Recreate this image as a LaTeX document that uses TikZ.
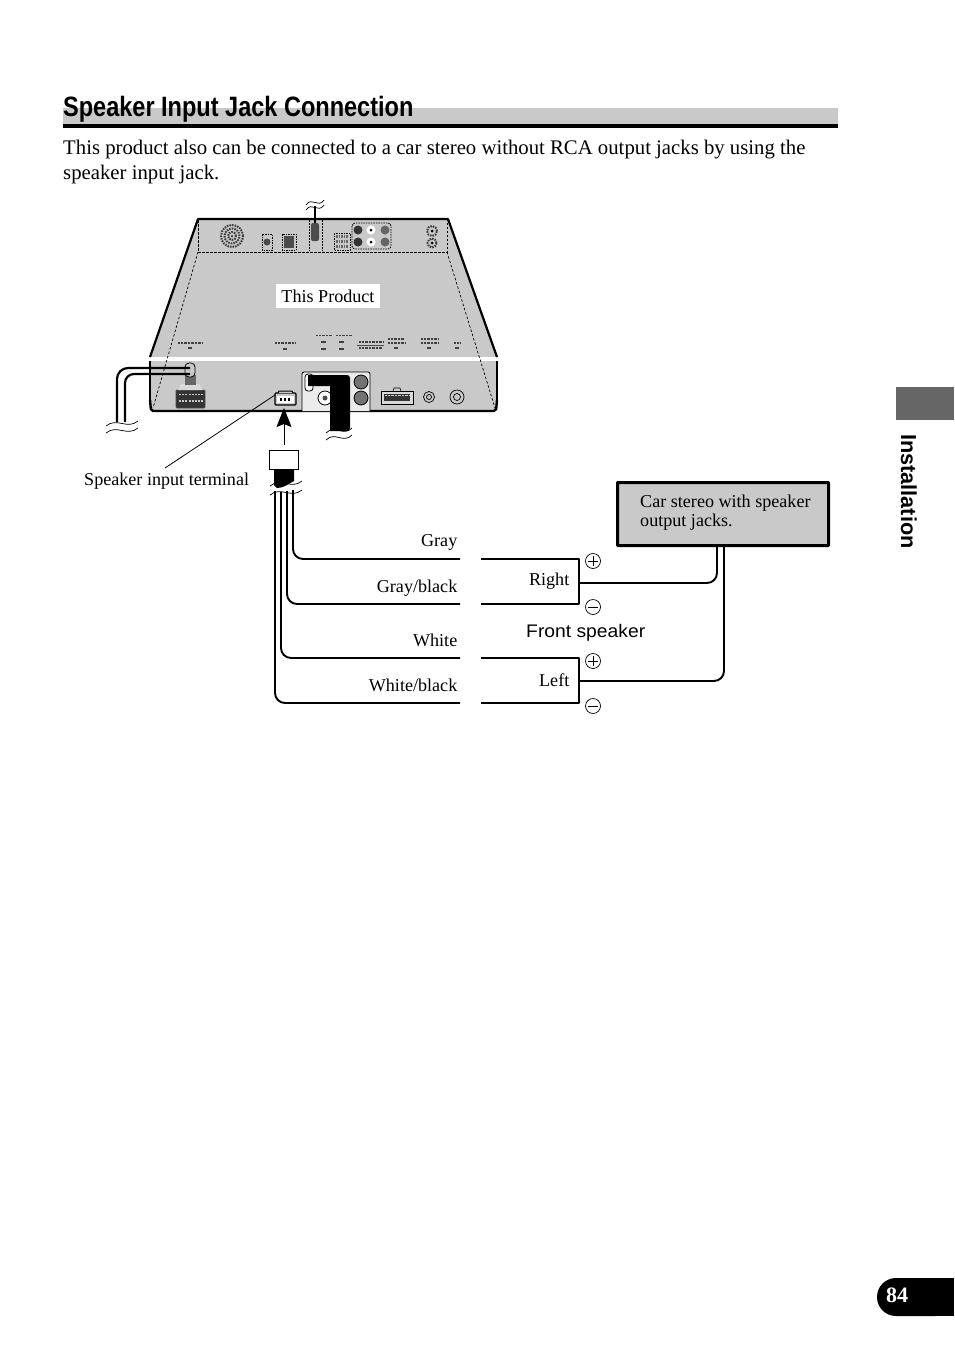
\documentclass[tikz,border=0pt]{standalone}
\usepackage{fontspec}
\usetikzlibrary{arrows.meta}
\setmainfont{Liberation Serif}
\setsansfont{Liberation Sans}
\definecolor{panelgray}{HTML}{C9C9C9}
\definecolor{tabgray}{HTML}{666666}
\tikzset{
	wire/.style={line width=1.9pt, rounded corners=10pt},
	caption/.style={inner sep=0pt, font=\fontsize{18.1}{22}\selectfont},
	smallcaption/.style={caption, anchor=base east},
	signcircle/.style={draw=black, line width=0.7pt, fill=white, circle, minimum size=15pt, inner sep=0pt},
	printmark/.style={line width=2pt, black!75},
	grille/.style={line width=2pt, black!75, dash pattern=on 1.6pt off 1pt},
}
\newcommand{\breakwave}[3]{\draw[line width=0.7pt] (#1-#3,#2+2) .. controls (#1-#3/3,#2-7) and (#1+#3/3,#2+6) .. (#1+#3,#2-3);}
\begin{document}
\begin{tikzpicture}[x=1pt,y=-1pt]
	\useasboundingbox (0,0) rectangle (954,1355);

	% heading and intro text
	\fill[panelgray] (63,108) rectangle (838,124);
	\fill[black] (63,124) rectangle (838,128);
	\node[anchor=base west, inner sep=0pt, xscale=0.84, font=\sffamily\bfseries\fontsize{28}{30}\selectfont] (title) at (63,116.5) {Speaker Input Jack Connection};
	\node[anchor=base west, inner sep=0pt, font=\fontsize{20.75}{25}\selectfont] (introone) at (63,154.5) {This product also can be connected to a car stereo without RCA output jacks by using the};
	\node[anchor=base west, inner sep=0pt, font=\fontsize{20.75}{25}\selectfont] (introtwo) at (63,179.5) {speaker input jack.};

	% page furniture
	\fill[tabgray] (896,387) rectangle (954,420);
	\node[rotate=-90, anchor=base west, inner sep=0pt, font=\sffamily\bfseries\fontsize{21.7}{24}\selectfont] (section) at (901,434) {Installation};
	\fill[black, rounded corners=18.9pt] (877,1278) rectangle (954,1316);
	\fill[black] (900,1278) rectangle (954,1316);
	\node[text=white, inner sep=0pt, font=\bfseries\fontsize{22}{26}\selectfont] (pagenum) at (897,1295) {84};

	% product body
	\coordinate (topL) at (198,219);
	\coordinate (topR) at (448,219);
	\coordinate (midL) at (150,357);
	\coordinate (midR) at (497,357);
	\coordinate (lowL) at (151,411);
	\coordinate (lowR) at (496,411);
	\fill[panelgray] (topL) -- (topR) -- (midR) -- (lowR) -- (lowL) -- (midL) -- cycle;
	\fill[white] (149,357) rectangle (498,361);
	\draw[line width=2.2pt, line join=round] (midL) -- (topL) -- (topR) -- (midR);
	\draw[line width=1.2pt] (150,361) -- (150,405);
	\draw[line width=1.2pt] (497,361) -- (497,405);
	\draw[line width=2.4pt, rounded corners=2pt] (150,400) -- (lowL) -- (lowR) -- (497,400);

	% dashed fold lines
	\draw[line width=1pt, dash pattern=on 2.5pt off 1.5pt] (198,220) -- (198,252) -- (447,252) -- (447,220);
	\draw[line width=0.7pt, dash pattern=on 2.5pt off 2pt] (198,252) -- (153,408);
	\draw[line width=0.7pt, dash pattern=on 2.5pt off 2pt] (447,252) -- (495,408);

	% top panel details
	\draw[grille] (232,236) circle[radius=11pt];
	\draw[grille] (232,236) circle[radius=7.5pt];
	\draw[grille] (232,236) circle[radius=4pt];
	\fill[black] (232,236) circle[radius=1pt];
	\draw[line width=0.6pt, dash pattern=on 1.5pt off 1pt] (262,234) rectangle (272,250);
	\fill[black!70] (267,242) circle[radius=3.5pt];
	\draw[line width=0.8pt, dash pattern=on 1.5pt off 1pt] (282,234) rectangle (296,250);
	\fill[black!70] (284,236) rectangle (294,248);
	\draw[line width=0.8pt, dash pattern=on 2pt off 1pt] (309,220) -- (309,251);
	\draw[line width=0.8pt, dash pattern=on 2pt off 1pt] (322,220) -- (322,251);
	\fill[black!70, rounded corners=2pt] (311,223) rectangle (319,241);
	\draw[line width=0.6pt, dash pattern=on 1.5pt off 1pt] (334,233) rectangle (350,250);
	\draw[grille, black!60, line width=3pt] (336,236) -- (348,236);
	\draw[grille, black!60, line width=3pt] (336,241) -- (348,241);
	\draw[grille, black!60, line width=3pt] (336,246) -- (348,246);
	\draw[rounded corners=3pt, line width=0.8pt, dash pattern=on 1.5pt off 1pt] (352,223) rectangle (391,249);
	\fill[black!80] (358,230) circle[radius=4.5pt];
	\fill[black!80] (358,242) circle[radius=4.5pt];
	\fill[white] (371,230) circle[radius=4.5pt];
	\fill[white] (371,242) circle[radius=4.5pt];
	\fill[black] (371,230) circle[radius=1.5pt];
	\fill[black] (371,242) circle[radius=1.5pt];
	\fill[black!60] (385,230) circle[radius=4.5pt];
	\fill[black!60] (385,242) circle[radius=4.5pt];
	\draw[grille] (432,231) circle[radius=5pt];
	\draw[grille] (432,243) circle[radius=4.5pt];
	\fill[black] (432,231) circle[radius=1.5pt];
	\fill[black] (432,243) circle[radius=1.5pt];

	% top cable
	\coordinate (topcable) at (315,206);
	\coordinate (topplug) at (315,223);
	\draw[line width=1.5pt] (topcable) -- (topplug);
	\breakwave{315}{203}{9}
	\breakwave{315}{208}{9}

	% illegible print on the panel
	\draw[printmark, line width=1.5pt, dash pattern=on 1pt off 0.4pt] (178,343) -- (203,343);
	\draw[printmark] (188,348) -- (192,348);
	\draw[printmark, line width=1.5pt, dash pattern=on 1pt off 0.4pt] (275,343) -- (295,343);
	\draw[printmark] (283,349) -- (287,349);
	\draw[printmark, line width=1pt, dash pattern=on 1pt off 0.4pt] (316,335) -- (332,335);
	\draw[printmark, line width=1pt, dash pattern=on 1pt off 0.4pt] (336,335) -- (352,335);
	\draw[printmark] (321,342) -- (326,342);
	\draw[printmark] (321,349) -- (326,349);
	\draw[printmark] (339,342) -- (344,342);
	\draw[printmark] (339,349) -- (344,349);
	\draw[printmark, line width=1.2pt, dash pattern=on 1pt off 0.4pt] (359,342) -- (384,342);
	\draw[black!70, line width=0.5pt] (357,345) -- (384,345);
	\draw[printmark, line width=1.2pt, dash pattern=on 1pt off 0.4pt] (359,348) -- (382,348);
	\draw[printmark, line width=1.2pt, dash pattern=on 1pt off 0.4pt] (388,339) -- (404,339);
	\draw[printmark, line width=1.2pt, dash pattern=on 1pt off 0.4pt] (388,343) -- (405,343);
	\draw[printmark] (394,348) -- (398,348);
	\draw[printmark, line width=1.2pt, dash pattern=on 1pt off 0.4pt] (421,339) -- (438,339);
	\draw[printmark, line width=1.2pt, dash pattern=on 1pt off 0.4pt] (421,343) -- (439,343);
	\draw[printmark] (427,348) -- (431,348);
	\draw[printmark, line width=1.2pt, dash pattern=on 1pt off 0.4pt] (454,343) -- (460,343);
	\draw[printmark] (455,348) -- (459,348);

	\node[fill=white, inner sep=0pt, minimum width=104pt, minimum height=24pt, font=\fontsize{18.1}{22}\selectfont] (product) at (328,296) {This Product};

	% front panel: power connector and its cable
	\draw[line width=0.9pt, black!70, fill=black!80, rounded corners=1pt] (176,390) rectangle (205,408);
	\draw[panelgray, line width=1.5pt, dash pattern=on 2pt off 1.2pt] (179,394.5) -- (203,394.5);
	\draw[panelgray, line width=1.5pt, dash pattern=on 2pt off 1.2pt] (179,401) -- (203,401);
	\fill[black!15] (181,384) -- (199,384) -- (203,390) -- (178,390) -- cycle;
	\fill[black!60] (185,375) rectangle (196,385);
	\draw[line width=0.8pt, rounded corners=4pt, fill=panelgray] (185,363) rectangle (195,377);
	\coordinate (powerA) at (190,368);
	\coordinate (powerB) at (190,374);
	\draw[line width=2.2pt, rounded corners=11pt] (powerA) -- (117,368) -- (117,422);
	\draw[line width=2.2pt, rounded corners=9pt] (powerB) -- (125,374) -- (125,422);
	\breakwave{122}{424}{16}
	\breakwave{122}{431}{16}

	% front panel: speaker input terminal
	\draw[line width=1.2pt, fill=panelgray, rounded corners=1pt] (275,393) rectangle (296,405);
	\draw[line width=1pt, fill=panelgray] (278,393) -- (279,391) -- (292,391) -- (293,393);
	\fill[white] (277,396) rectangle (294,403);
	\fill[black] (280,398) rectangle (282,401);
	\fill[black] (284,398) rectangle (286,401);
	\fill[black] (288,398) rectangle (290,401);
	\coordinate (terminal) at (284,408);

	% front panel: RCA block
	\draw[line width=0.8pt, fill=black!8, rounded corners=2pt] (302,411) -- (302,372) -- (370,372) -- (370,411);
	\draw[line width=0.8pt, fill=white, rounded corners=3pt] (305,374) rectangle (313,391);
	\draw[line width=0.8pt, fill=black!55] (361,382) circle[radius=7pt];
	\draw[line width=0.8pt, fill=black!55] (361,398) circle[radius=7pt];
	\draw[line width=0.8pt, fill=white] (325,398) circle[radius=7pt];
	\fill[black!70] (325,398) circle[radius=2.5pt];
	\fill[black] (308,375) -- (342,375) [rounded corners=3pt] -- (350,375) -- (350,431) [sharp corners] -- (330,431) -- (330,386) -- (308,386) -- cycle;
	\breakwave{339}{431}{13}
	\breakwave{339}{438}{13}

	% front panel: remaining sockets
	\draw[line width=0.9pt, fill=panelgray!70] (381,391) rectangle (413,404);
	\draw[line width=0.6pt] (393,391) -- (394,388) -- (400,388) -- (401,391);
	\fill[black!80] (384,394) rectangle (410,401);
	\draw[panelgray, line width=1.5pt, dash pattern=on 0.8pt off 0.6pt] (385,395.5) -- (409,395.5);
	\draw[line width=0.7pt, fill=panelgray] (429,397) circle[radius=5.5pt];
	\draw[line width=0.7pt] (429,397) circle[radius=2.5pt];
	\draw[line width=0.7pt, fill=panelgray] (457,397) circle[radius=7pt];
	\draw[line width=0.7pt] (457,397) circle[radius=3.5pt];

	% loom plug and arrow to the terminal
	\node[draw=black, line width=0.9pt, fill=white, minimum width=29pt, minimum height=19pt, inner sep=0pt] (plug) at (284,460) {};
	\draw[line width=0.9pt, -{Stealth[length=19pt, width=15pt, inset=3pt]}] (284,445) -- (terminal);
	\node[caption, anchor=base west] (termlabel) at (84,485) {Speaker input terminal};
	\coordinate (leadstart) at (165,468);
	\draw[line width=0.8pt] (leadstart) -- (275,395);
	\fill[black] (274,470) -- (294,470) -- (294,481) .. controls (288,484) and (284,488) .. (277,488) -- (274,485) -- cycle;
	\breakwave{286}{484}{16}
	\breakwave{286}{493}{16}

	% speaker wires
	\node[smallcaption] (gray) at (457.5,546) {Gray};
	\node[smallcaption] (grayblack) at (457.5,592) {Gray/black};
	\node[smallcaption] (white) at (457.5,646) {White};
	\node[smallcaption] (whiteblack) at (457.5,691) {White/black};
	\coordinate (grayend) at (460,559);
	\coordinate (grayblackend) at (460,604);
	\coordinate (whiteend) at (460,658);
	\coordinate (whiteblackend) at (460,703);
	\draw[wire] (293,490) -- (293,559) -- (grayend);
	\draw[wire] (287,491) -- (287,604) -- (grayblackend);
	\draw[wire] (281,492) -- (281,658) -- (whiteend);
	\draw[wire] (275,491) -- (275,703) -- (whiteblackend);

	% speakers
	\coordinate (rightA) at (481,559);
	\coordinate (rightB) at (481,604);
	\coordinate (leftA) at (481,658);
	\coordinate (leftB) at (481,703);
	\draw[line width=1.9pt, line join=round] (rightA) -- (579,559) -- (579,604) -- (rightB);
	\draw[line width=1.9pt, line join=round] (leftA) -- (579,658) -- (579,703) -- (leftB);
	\node[caption, anchor=base east] (right) at (569.5,585) {Right};
	\node[caption, anchor=base east] (left) at (569.5,686) {Left};
	\node[signcircle] (rightplus) at (593,561) {};
	\node[signcircle] (rightminus) at (593,607) {};
	\node[signcircle] (leftplus) at (593,661) {};
	\node[signcircle] (leftminus) at (593,706) {};
	\draw[line width=0.7pt] ([xshift=-5pt]rightplus.center) -- ([xshift=5pt]rightplus.center) ([yshift=-5pt]rightplus.center) -- ([yshift=5pt]rightplus.center);
	\draw[line width=0.7pt] ([xshift=-5pt]rightminus.center) -- ([xshift=5pt]rightminus.center);
	\draw[line width=0.7pt] ([xshift=-5pt]leftplus.center) -- ([xshift=5pt]leftplus.center) ([yshift=-5pt]leftplus.center) -- ([yshift=5pt]leftplus.center);
	\draw[line width=0.7pt] ([xshift=-5pt]leftminus.center) -- ([xshift=5pt]leftminus.center);
	\node[anchor=base west, inner sep=0pt, xscale=1.06, font=\sffamily\fontsize{18.2}{21}\selectfont] (front) at (526,637) {Front speaker};

	% car stereo box
	\node[draw=black, line width=3pt, fill=panelgray, minimum width=211pt, minimum height=63pt, inner sep=0pt, rounded corners=0.5pt] (stereo) at (723,514) {};
	\node[caption, anchor=base west] (stereoone) at (640,507) {Car stereo with speaker};
	\node[caption, anchor=base west] (stereotwo) at (640,526) {output jacks.};
	\coordinate (stereoR) at (717,547);
	\coordinate (stereoL) at (724,547);
	\coordinate (rightin) at (579,583);
	\coordinate (leftin) at (579,681);
	\draw[wire] (stereoR) -- (717,583) -- (rightin);
	\draw[wire] (stereoL) -- (724,681) -- (leftin);
\end{tikzpicture}
\end{document}
